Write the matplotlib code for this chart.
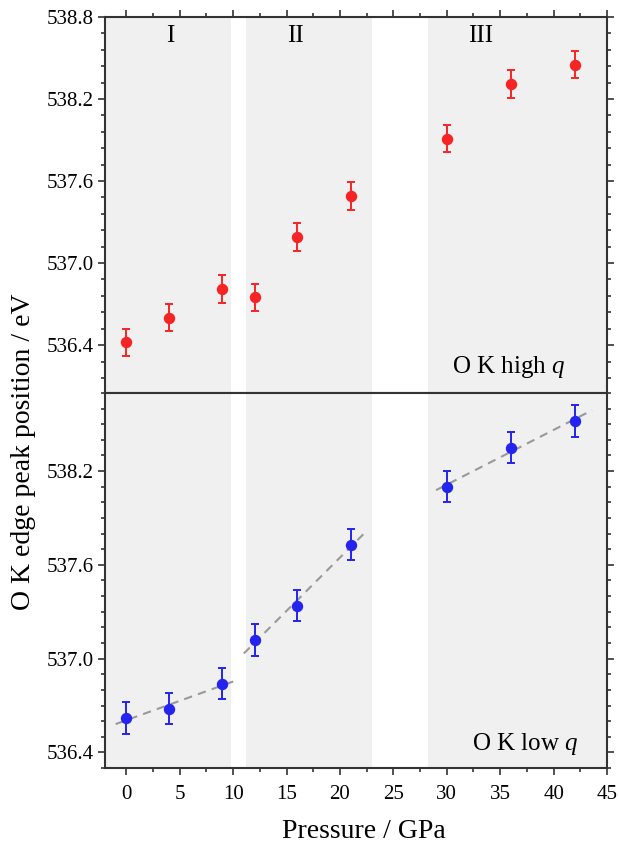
#!/usr/bin/python3

#O K edge peak position vs pressure
#---
#Two stacked panels (high q / low q) with shaded pressure regions.

#import libraries
import numpy as np
import matplotlib
matplotlib.use('Agg')
import matplotlib.pyplot as plt
from matplotlib.ticker import MultipleLocator, FormatStrFormatter

#define the data
pressure = [0, 4, 9, 12, 16, 21, 30, 36, 42]
high_q = [536.42, 536.60, 536.81, 536.75, 537.19, 537.49, 537.91, 538.31, 538.45]
high_q_err = [0.10, 0.10, 0.10, 0.10, 0.10, 0.10, 0.10, 0.10, 0.10]
low_q = [536.62, 536.68, 536.84, 537.12, 537.34, 537.73, 538.10, 538.35, 538.52]
low_q_err = [0.10, 0.10, 0.10, 0.10, 0.10, 0.10, 0.10, 0.10, 0.10]

#pressure regions and their labels
regions = [(-2, 9.8), (11.2, 23.0), (28.2, 45)]
region_names = ['I', 'II', 'III']
region_label_x = [4.1, 15.8, 33.2]

#linear fits for the low q data: point groups and drawn range
fit_groups = [[0, 1, 2], [3, 4, 5], [6, 7, 8]]
fit_ranges = [(-1.0, 10.4), (11.0, 22.6), (29.0, 43.6)]

#global style
plt.rcParams['font.family'] = ['Liberation Serif', 'DejaVu Serif']
plt.rcParams['mathtext.fontset'] = 'custom'
plt.rcParams['mathtext.rm'] = 'Liberation Serif'
plt.rcParams['mathtext.it'] = 'Liberation Serif:italic'
SPINE = '#333333'
SHADE = '#f0f0f0'
RED = '#f52525'
BLUE = '#2424ee'

fig = plt.figure(figsize = (6.19, 8.48), dpi = 100)
ax_top = fig.add_axes([0.1696, 0.5366, 0.811, 0.4434])
ax_bot = fig.add_axes([0.1696, 0.0943, 0.811, 0.4423])

def style_axis(ax, ylim, minor, top_panel):
    """
    Shared axis styling for both panels.
    """
    ax.set_xlim(-2, 45)
    ax.set_ylim(*ylim)
    ax.xaxis.set_major_locator(MultipleLocator(5))
    ax.xaxis.set_minor_locator(MultipleLocator(2.5))
    ax.yaxis.set_major_locator(MultipleLocator(0.6))
    ax.yaxis.set_minor_locator(MultipleLocator(minor))
    ax.yaxis.set_major_formatter(FormatStrFormatter('%.1f'))
    for s in ax.spines.values():
        s.set_color(SPINE)
        s.set_linewidth(1.5)
    ax.tick_params(which = 'both', direction = 'out', color = SPINE, width = 1.2,
                   left = True, right = True, labelright = False,
                   top = top_panel, bottom = not top_panel,
                   labelbottom = not top_panel, labelsize = 15)
    ax.tick_params(axis = 'y', pad = 3)
    ax.tick_params(axis = 'x', pad = 7)
    ax.tick_params(which = 'major', length = 5)
    ax.tick_params(which = 'minor', length = 3)
    for (x0, x1) in regions:
        ax.axvspan(x0, x1, color = SHADE, zorder = 0, lw = 0)

style_axis(ax_top, (536.05, 538.8), 0.12, True)
style_axis(ax_bot, (536.3, 538.7), 0.1, False)

#top panel: high q
ax_top.errorbar(pressure, high_q, yerr = high_q_err, fmt = 'o', color = RED,
                ms = 7.2, elinewidth = 1.4, capsize = 2.7, capthick = 1.4, zorder = 3)
for name, x in zip(region_names, region_label_x):
    ax_top.text(x, 538.66, name, fontsize = 18, ha = 'center', va = 'center')
ax_top.text(0.916, 0.053, 'O K high $q$', transform = ax_top.transAxes,
            fontsize = 18, ha = 'right', va = 'baseline')

#bottom panel: low q with dashed linear fits
ax_bot.errorbar(pressure, low_q, yerr = low_q_err, fmt = 'o', color = BLUE,
                ms = 7.2, elinewidth = 1.4, capsize = 2.7, capthick = 1.4, zorder = 3)
for idx, (x0, x1) in zip(fit_groups, fit_ranges):
    px = np.array(pressure)[idx]
    py = np.array(low_q)[idx]
    slope, intercept = np.polyfit(px, py, 1)
    xs = np.array([x0, x1])
    ax_bot.plot(xs, slope * xs + intercept, color = '#999999', ls = (0, (4, 3)),
                lw = 1.5, zorder = 2)
ax_bot.text(0.942, 0.048, 'O K low $q$', transform = ax_bot.transAxes,
            fontsize = 18, ha = 'right', va = 'baseline')

#axis labels
fig.text(364 / 619, 1 - 832 / 848, 'Pressure / GPa', fontsize = 20,
         ha = 'center', va = 'center')
fig.text(24 / 619, 1 - 452 / 848, 'O K edge peak position / eV', fontsize = 20,
         rotation = 90, ha = 'center', va = 'center')

fig.savefig('out.png', dpi = 100)
